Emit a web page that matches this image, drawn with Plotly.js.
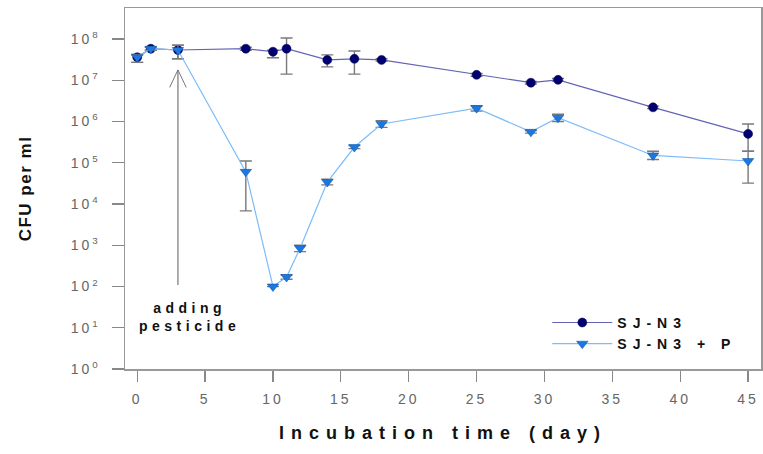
<!DOCTYPE html>
<html>
<head>
<meta charset="utf-8">
<script src="https://cdn.plot.ly/plotly-3.0.1.min.js"></script>
<style>
html,body{margin:0;padding:0;background:#fff;}
#chart{width:763px;height:454px;}
.legendtext{letter-spacing:6px;}
.g-xtitle text{letter-spacing:7px;}
.g-ytitle text{letter-spacing:1.5px;}
.annotation-text{letter-spacing:4.5px;}
.xtick text,.ytick text{letter-spacing:3px;}
</style>
</head>
<body>
<div id="chart"></div>
<script>
// ---- data (CFU per ml) ----
const daysA = [0, 1, 3, 8, 10, 11, 14, 16, 18, 25, 29, 31, 38, 45];
const cfuA = [3.6e7, 5.8e7, 5.4e7, 5.8e7, 4.9e7, 5.8e7, 3.1e7, 3.3e7, 3.1e7, 1.35e7, 8.7e6, 1.02e7, 2.2e6, 5.0e5];
const upperA = [4.2e7, 6.3e7, 7.1e7, 6.3e7, 5.3e7, 1.05e8, 4.1e7, 5.1e7, 3.3e7, 1.45e7, 9.3e6, 1.1e7, 2.35e6, 8.7e5];
const lowerA = [2.7e7, 5.3e7, 3.3e7, 5.3e7, 3.5e7, 1.4e7, 2.1e7, 1.4e7, 2.9e7, 1.25e7, 8.1e6, 9.5e6, 2.05e6, 1.9e5];

const daysB = [0, 1, 3, 8, 10, 11, 12, 14, 16, 18, 25, 29, 31, 38, 45];
const cfuB = [3.6e7, 5.8e7, 5.4e7, 6.0e4, 1.0e2, 1.7e2, 8.5e2, 3.4e4, 2.4e5, 8.7e5, 2.1e6, 5.6e5, 1.23e6, 1.5e5, 1.1e5];
const upperB = [4.2e7, 6.3e7, 7.1e7, 1.1e5, 1.0e2, 1.9e2, 1.0e3, 4.0e4, 2.6e5, 1.05e6, 2.4e6, 6.0e5, 1.5e6, 1.9e5, 1.9e5];
const lowerB = [2.7e7, 5.3e7, 3.3e7, 6.8e3, 1.0e2, 1.5e2, 7.0e2, 2.9e4, 2.2e5, 7.2e5, 1.8e6, 5.2e5, 1.0e6, 1.2e5, 3.2e4];

const seriesNames = ["SJ-N3", "SJ-N3 + P"];
const yTickExp = [0, 1, 2, 3, 4, 5, 6, 7, 8];
const xTicks = [0, 5, 10, 15, 20, 25, 30, 35, 40, 45];
const arrowDay = 3;
const arrowLabel = "adding<br>pesticide";

// ---- build ----
const diffUp = (v, u) => v.map((d, i) => Math.max(u[i] - d, 0));
const diffDn = (v, l) => v.map((d, i) => Math.max(d - l[i], 0));

const errStyle = {type: 'data', symmetric: false, color: '#7a7a7a', thickness: 1.4, width: 6};

const traceA = {
  x: daysA, y: cfuA, name: seriesNames[0], type: 'scatter', mode: 'lines+markers',
  line: {color: '#6464b4', width: 1.2},
  marker: {symbol: 'circle', size: 9, color: '#000070', line: {color: '#000050', width: 0.5}},
  error_y: Object.assign({array: diffUp(cfuA, upperA), arrayminus: diffDn(cfuA, lowerA)}, errStyle)
};
const traceB = {
  x: daysB, y: cfuB, name: seriesNames[1], type: 'scatter', mode: 'lines+markers',
  line: {color: '#7dbcf8', width: 1.2},
  marker: {symbol: 'triangle-down', size: 10, color: '#1a78e0', line: {color: '#0a4aa0', width: 0.5}},
  error_y: Object.assign({array: diffUp(cfuB, upperB), arrayminus: diffDn(cfuB, lowerB)}, errStyle)
};

const tickFont = {family: 'Liberation Sans, Arial, sans-serif', size: 14, color: '#666'};
const boldFont = (s) => ({family: 'Liberation Sans, Arial, sans-serif', size: s, color: '#111', weight: 'bold'});

const tipLog = 7.25, baseLog = 2.0;

const layout = {
  width: 763, height: 454,
  margin: {l: 125, r: 2, t: 8, b: 85},
  paper_bgcolor: '#fff', plot_bgcolor: '#fff',
  showlegend: true,
  legend: {x: 0.664, y: 0.172, xanchor: 'left', yanchor: 'top', bgcolor: 'rgba(0,0,0,0)',
           font: boldFont(14), tracegroupgap: 0, itemwidth: 60},
  xaxis: {
    range: [-0.9, 45.95], tickvals: xTicks, ticks: 'outside', ticklen: 11, tickwidth: 1.2,
    tickcolor: '#888', showgrid: false, zeroline: false, showline: true, linecolor: '#999',
    linewidth: 1.5, mirror: true, tickfont: tickFont, ticklabelstandoff: 6,
    title: {text: 'Incubation time (day)', font: boldFont(18), standoff: 20}
  },
  yaxis: {
    type: 'log', range: [0, 8.75],
    tickvals: yTickExp.map(e => Math.pow(10, e)),
    ticktext: yTickExp.map(e => '10<sup>' + e + '</sup>'),
    ticks: 'outside', ticklen: 12, tickwidth: 1.2, tickcolor: '#888',
    ticklabelstandoff: 8,
    showgrid: false, zeroline: false, showline: true, linecolor: '#999', linewidth: 1.5, mirror: true,
    tickfont: tickFont,
    title: {text: 'CFU per ml', font: boldFont(17), standoff: 34}
  },
  annotations: [
    {x: arrowDay, y: tipLog, ax: arrowDay, ay: baseLog, axref: 'x', ayref: 'y', xref: 'x', yref: 'y',
     text: '', showarrow: true, arrowhead: 0, arrowwidth: 1.2, arrowcolor: '#777'},
    {x: arrowDay, y: tipLog, ax: -9, ay: 19, xref: 'x', yref: 'y', text: '', showarrow: true,
     arrowhead: 0, arrowwidth: 1, arrowcolor: '#777'},
    {x: arrowDay, y: tipLog, ax: 9, ay: 19, xref: 'x', yref: 'y', text: '', showarrow: true,
     arrowhead: 0, arrowwidth: 1, arrowcolor: '#777'},
    {x: arrowDay + 0.85, y: 1.27, xref: 'x', yref: 'y', text: arrowLabel, showarrow: false,
     font: boldFont(14), align: 'center'}
  ]
};

Plotly.newPlot('chart', [traceA, traceB], layout, {displayModeBar: false, staticPlot: true});
</script>
</body>
</html>
